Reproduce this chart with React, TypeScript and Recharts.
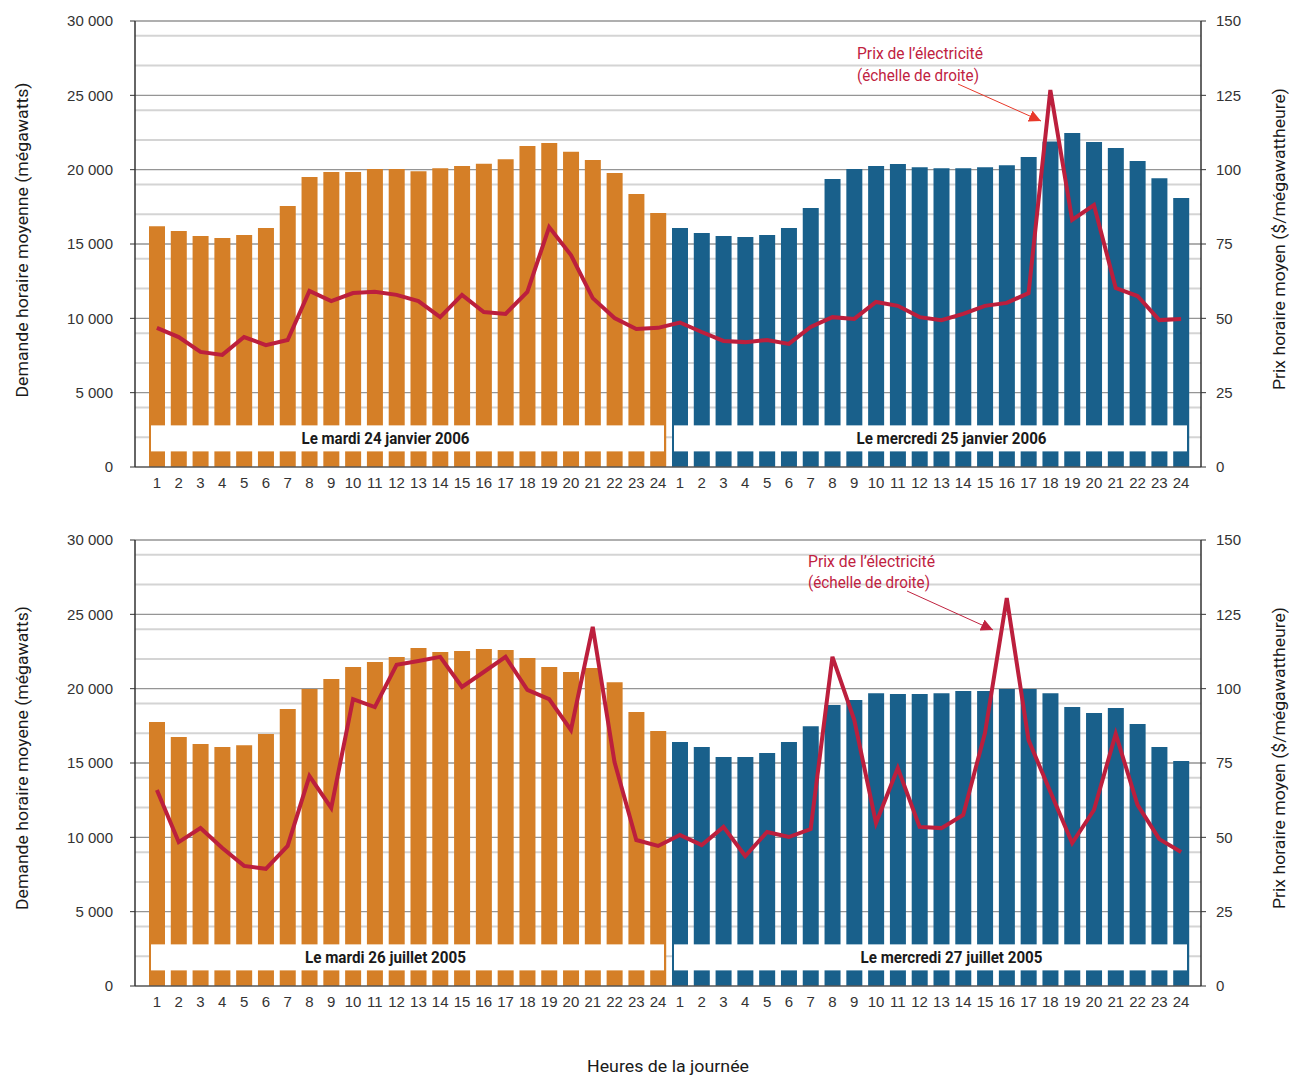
import { ComposedChart, Bar, Line, XAxis, YAxis, CartesianGrid, ReferenceArea, Cell } from 'recharts';

// Heures de la journée
const hours = [1, 2, 3, 4, 5, 6, 7, 8, 9, 10, 11, 12, 13, 14, 15, 16, 17, 18, 19, 20, 21, 22, 23, 24];

// Janvier : demande (MW) et prix ($/MWh)
const janTueDemand = [16200, 15870, 15530, 15400, 15600, 16070, 17550, 19500, 19840, 19840, 20040, 20040, 19900, 20100, 20240, 20400, 20700, 21600, 21800, 21200, 20650, 19770, 18360, 17080];
const janWedDemand = [16070, 15740, 15530, 15470, 15600, 16070, 17420, 19370, 20040, 20240, 20380, 20170, 20100, 20100, 20170, 20300, 20850, 21900, 22460, 21860, 21450, 20580, 19430, 18090];
const janTuePrice = [46.8, 43.7, 38.7, 37.7, 43.7, 41.0, 42.7, 59.2, 55.8, 58.5, 58.9, 57.9, 55.8, 50.4, 57.9, 52.1, 51.5, 58.9, 80.7, 71.3, 56.8, 50.1, 46.4, 46.8];
const janWedPrice = [48.6, 45.4, 42.4, 42.0, 42.7, 41.4, 47.1, 50.4, 49.8, 55.5, 54.2, 50.4, 49.4, 51.5, 54.2, 55.2, 58.5, 126.8, 83.1, 88.1, 60.2, 57.5, 49.4, 49.8];

// Juillet : demande (MW) et prix ($/MWh)
const julTueDemand = [17750, 16750, 16270, 16070, 16200, 16950, 18630, 19970, 20650, 21450, 21790, 22130, 22730, 22460, 22530, 22660, 22600, 22060, 21450, 21120, 21390, 20440, 18430, 17150];
const julWedDemand = [16410, 16070, 15400, 15400, 15670, 16410, 17480, 18900, 19230, 19700, 19640, 19640, 19700, 19840, 19840, 19970, 19970, 19700, 18760, 18360, 18700, 17620, 16070, 15130];
const julTuePrice = [65.9, 48.4, 53.1, 46.4, 40.4, 39.4, 47.1, 70.6, 59.9, 96.5, 93.8, 108.0, 109.3, 110.7, 100.6, 105.6, 110.7, 99.6, 96.5, 86.1, 120.8, 75.3, 49.1, 47.1];
const julWedPrice = [50.8, 47.4, 53.5, 43.7, 51.8, 50.1, 52.8, 110.7, 89.5, 54.8, 73.3, 53.5, 53.1, 57.5, 85.1, 130.5, 82.7, 65.3, 48.1, 59.2, 84.8, 60.9, 49.4, 45.1];

const leftTicks = [0, 5000, 10000, 15000, 20000, 25000, 30000];
const rightTicks = [0, 25, 50, 75, 100, 125, 150];
const minorGrid = [1000, 2000, 3000, 4000, 6000, 7000, 8000, 9000, 11000, 12000, 13000, 14000, 16000, 17000, 18000, 19000, 21000, 22000, 23000, 24000, 26000, 27000, 28000, 29000];
const majorGrid = [5000, 10000, 15000, 20000, 25000, 30000];

const ORANGE = '#D57F27';
const BLUE = '#19608B';
const RED = '#BC1F3D';
const NOTE_RED = '#C0223F';
// no narrow font installed: Roboto squeezed with textLength
const NARROW = 'Roboto, "Liberation Sans", sans-serif';
const SANS = '"Liberation Sans", Arial, sans-serif';

function buildRows(tueD: number[], wedD: number[], tueP: number[], wedP: number[]) {
  return [
    ...hours.map((h, i) => ({ key: `a${h}`, day: 'tue', demand: tueD[i], price: tueP[i] })),
    ...hours.map((h, i) => ({ key: `b${h}`, day: 'wed', demand: wedD[i], price: wedP[i] })),
  ];
}

const janRows = buildRows(janTueDemand, janWedDemand, janTuePrice, janWedPrice);
const julRows = buildRows(julTueDemand, julWedDemand, julTuePrice, julWedPrice);

const spaced = (v: number) => String(v).replace(/\B(?=(\d{3})+(?!\d))/g, ' ');

const InsetBox = (props: any) => {
  const { x, y, width, height } = props;
  return <rect x={x + 5} y={y} width={width - 10} height={height} fill="#fff" />;
};

// label text sits off-centre in the source boxes
const boxLabel = (value: string, len: number, shift: number) => ({
  content: (p: any) => {
    const vb = p.viewBox || {};
    return (
      <text
        x={vb.x + vb.width / 2 + shift}
        y={vb.y + vb.height / 2 + 6}
        textAnchor="middle"
        fontFamily={NARROW}
        fontSize={16}
        fontWeight={700}
        fill="#1a1a1a"
        textLength={len}
        lengthAdjust="spacingAndGlyphs"
      >
        {value}
      </text>
    );
  },
});

function Panel({ rows, tueLabel, wedLabel, tueLen, wedLen }: { rows: any[]; tueLabel: string; wedLabel: string; tueLen: number; wedLen: number }) {
  return (
    <ComposedChart width={1289} height={500} data={rows} margin={{ top: 21, right: 0, bottom: 3, left: 0 }}>
      <CartesianGrid yAxisId="left" horizontalValues={minorGrid} vertical={false} stroke="#d4d4d4" strokeWidth={2} />
      <CartesianGrid yAxisId="left" horizontalValues={majorGrid} vertical={false} stroke="#959595" strokeWidth={1.3} />
      <XAxis
        dataKey="key"
        tickFormatter={(k: string) => k.slice(1)}
        interval={0}
        padding={{ left: 11, right: 9 }}
        tickLine={false}
        axisLine={{ stroke: '#555', strokeWidth: 1.5 }}
        height={30}
        tickMargin={4}
        tick={{ fontSize: 15, fill: '#333', fontFamily: SANS }}
      />
      <YAxis
        yAxisId="left"
        domain={[0, 30000]}
        ticks={leftTicks}
        tickFormatter={spaced}
        width={135}
        tickSize={5}
        tickMargin={17}
        axisLine={{ stroke: '#333', strokeWidth: 1.5 }}
        tickLine={{ stroke: '#333' }}
        tick={{ fontSize: 15, fill: '#333', fontFamily: SANS }}
      />
      <YAxis
        yAxisId="right"
        orientation="right"
        domain={[0, 150]}
        ticks={rightTicks}
        width={88}
        tickSize={5}
        tickMargin={10}
        axisLine={{ stroke: '#333', strokeWidth: 1.5 }}
        tickLine={{ stroke: '#333' }}
        tick={{ fontSize: 15, fill: '#333', fontFamily: SANS }}
      />
      <Bar yAxisId="left" dataKey="demand" barSize={16} isAnimationActive={false}>
        {rows.map((r) => (
          <Cell key={r.key} fill={r.day === 'tue' ? ORANGE : BLUE} />
        ))}
      </Bar>
      <ReferenceArea yAxisId="left" x1="a1" x2="a24" y1={1050} y2={2800} ifOverflow="visible" shape={<InsetBox />} label={boxLabel(tueLabel, tueLen, -22)} zIndex={350} />
      <ReferenceArea yAxisId="left" x1="b1" x2="b24" y1={1050} y2={2800} ifOverflow="visible" shape={<InsetBox />} label={boxLabel(wedLabel, wedLen, 21)} zIndex={350} />
      <Line
        yAxisId="right"
        type="linear"
        dataKey="price"
        stroke={RED}
        strokeWidth={4}
        dot={false}
        isAnimationActive={false}
      />
    </ComposedChart>
  );
}

export default function App() {
  const title = { fontFamily: NARROW, fontSize: 17, fill: '#1a1a1a', lengthAdjust: 'spacingAndGlyphs' };
  const note = { fontFamily: NARROW, fontSize: 16, fill: NOTE_RED, lengthAdjust: 'spacingAndGlyphs' };
  return (
    <div style={{ position: 'absolute', left: 0, top: 0, width: 1289, height: 1076, background: '#fff' }}>
      <div style={{ position: 'absolute', left: 0, top: 0 }}>
        <Panel rows={janRows} tueLabel="Le mardi 24 janvier 2006" wedLabel="Le mercredi 25 janvier 2006" tueLen={168} wedLen={190} />
      </div>
      <div style={{ position: 'absolute', left: 0, top: 519 }}>
        <Panel rows={julRows} tueLabel="Le mardi 26 juillet 2005" wedLabel="Le mercredi 27 juillet 2005" tueLen={161} wedLen={182} />
      </div>
      <svg width={1289} height={1076} style={{ position: 'absolute', left: 0, top: 0, pointerEvents: 'none' }}>
        <defs>
          <marker id="headA" viewBox="0 0 10 10" refX="10" refY="5" markerWidth="12" markerHeight="12" markerUnits="userSpaceOnUse" orient="auto">
            <path d="M0,0 L10,5 L0,10 z" fill="#E8392A" />
          </marker>
          <marker id="headB" viewBox="0 0 10 10" refX="10" refY="5" markerWidth="12" markerHeight="12" markerUnits="userSpaceOnUse" orient="auto">
            <path d="M0,0 L10,5 L0,10 z" fill={NOTE_RED} />
          </marker>
        </defs>
        <text transform="translate(28,240) rotate(-90)" textAnchor="middle" textLength={315} {...title}>Demande horaire moyenne (mégawatts)</text>
        <text transform="translate(1285,239) rotate(-90)" textAnchor="middle" textLength={302} {...title}>Prix horaire moyen ($/mégawattheure)</text>
        <text transform="translate(28,758) rotate(-90)" textAnchor="middle" textLength={304} {...title}>Demande horaire moyene (mégawatts)</text>
        <text transform="translate(1285,758) rotate(-90)" textAnchor="middle" textLength={302} {...title}>Prix horaire moyen ($/mégawattheure)</text>
        <text x={668} y={1072} textAnchor="middle" textLength={162} {...title}>Heures de la journée</text>

        <text x={857} y={59} textLength={126} {...note}>Prix de l’électricité</text>
        <text x={857} y={81} textLength={122} {...note}>(échelle de droite)</text>
        <line x1={958} y1={84} x2={1041} y2={121} stroke="#E8392A" strokeWidth={1} markerEnd="url(#headA)" />

        <text x={808} y={567} textLength={127} {...note}>Prix de l’électricité</text>
        <text x={808} y={588} textLength={122} {...note}>(échelle de droite)</text>
        <line x1={907} y1={591} x2={993} y2={630} stroke={NOTE_RED} strokeWidth={1} markerEnd="url(#headB)" />
      </svg>
    </div>
  );
}
